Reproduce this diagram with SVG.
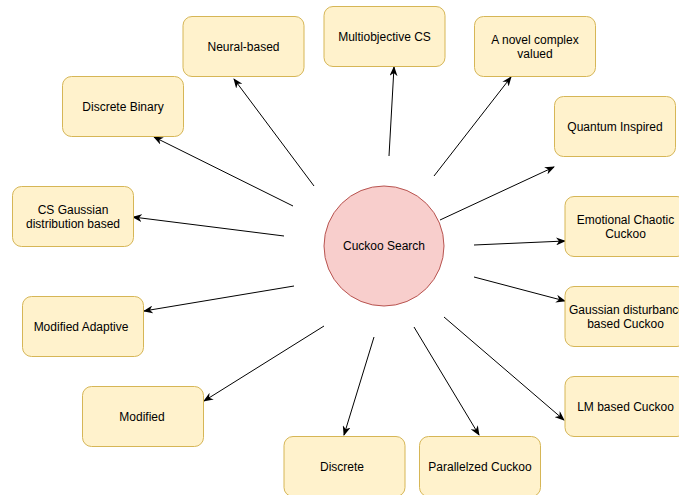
<svg xmlns="http://www.w3.org/2000/svg" width="679" height="495" viewBox="0 0 679 495">
<style>
.box{fill:#fff2cc;stroke:#d6b656;stroke-width:1}
.t{font-family:"Liberation Sans",Arial,sans-serif;font-size:12px;fill:#000;text-anchor:middle}
.c{stroke:#000;stroke-width:1;fill:none;marker-end:url(#arr)}
</style>
<defs>
<marker id="arr" markerUnits="userSpaceOnUse" viewBox="0 0 10 8" refX="9" refY="4" markerWidth="10" markerHeight="8" orient="auto">
<path d="M0,0 L10,4 L0,8 L3,4 z" fill="#000"/>
</marker>
</defs>
<rect width="679" height="495" fill="#fff"/>
<g id="connectors">
<line class="c" x1="314" y1="186" x2="234" y2="79"/>
<line class="c" x1="293" y1="206" x2="154" y2="137"/>
<line class="c" x1="284" y1="236" x2="133" y2="217"/>
<line class="c" x1="389" y1="156" x2="394" y2="67"/>
<line class="c" x1="434" y1="176" x2="511" y2="77"/>
<line class="c" x1="440" y1="220" x2="554" y2="167"/>
<line class="c" x1="474" y1="245" x2="565" y2="241"/>
<line class="c" x1="474" y1="277" x2="565" y2="301"/>
<line class="c" x1="444" y1="317" x2="564" y2="420"/>
<line class="c" x1="414" y1="327" x2="479" y2="435"/>
<line class="c" x1="374" y1="337" x2="344" y2="435"/>
<line class="c" x1="294" y1="286" x2="144" y2="311"/>
<line class="c" x1="324" y1="326" x2="204" y2="401"/>
</g>
<g id="center">
<circle cx="384" cy="246" r="60" fill="#f8cecc" stroke="#b85450"/>
<text class="t" x="384" y="250">Cuckoo Search</text>
</g>
<g id="neural"><rect class="box" x="183" y="16.5" width="121" height="60" rx="9"/><text class="t" x="243.5" y="50.5">Neural-based</text></g>
<g id="discrete-binary"><rect class="box" x="62.5" y="76.5" width="121" height="60" rx="9"/><text class="t" x="123" y="110.5">Discrete Binary</text></g>
<g id="cs-gaussian"><rect class="box" x="12.5" y="186.5" width="121" height="60" rx="9"/><text class="t" x="73" y="214">CS Gaussian</text><text class="t" x="73" y="228">distribution based</text></g>
<g id="multiobjective"><rect class="box" x="324" y="6.5" width="121" height="60" rx="9"/><text class="t" x="384.5" y="40.5">Multiobjective CS</text></g>
<g id="novel"><rect class="box" x="474.5" y="16.5" width="121" height="60" rx="9"/><text class="t" x="535" y="44">A novel complex</text><text class="t" x="535" y="58">valued</text></g>
<g id="quantum"><rect class="box" x="554.5" y="96.5" width="121" height="60" rx="9"/><text class="t" x="615" y="130.5">Quantum Inspired</text></g>
<g id="emotional"><rect class="box" x="565" y="196.5" width="121" height="60" rx="9"/><text class="t" x="625.5" y="224">Emotional Chaotic</text><text class="t" x="625.5" y="238">Cuckoo</text></g>
<g id="gaussian-disturbance"><rect class="box" x="565" y="286.5" width="121" height="60" rx="9"/><text class="t" x="627" y="314">Gaussian disturbance</text><text class="t" x="625.5" y="328">based Cuckoo</text></g>
<g id="lm"><rect class="box" x="565" y="376.5" width="121" height="60" rx="9"/><text class="t" x="625.5" y="410.5">LM based Cuckoo</text></g>
<g id="parallelzed"><rect class="box" x="419.5" y="436.5" width="121" height="60" rx="9"/><text class="t" x="480" y="470.5">Parallelzed Cuckoo</text></g>
<g id="discrete"><rect class="box" x="284" y="436.5" width="121" height="60" rx="9"/><text class="t" x="342" y="470.5">Discrete</text></g>
<g id="modified"><rect class="box" x="82.5" y="386.5" width="121" height="60" rx="9"/><text class="t" x="142" y="420.5">Modified</text></g>
<g id="modified-adaptive"><rect class="box" x="22.5" y="296.5" width="121" height="60" rx="9"/><text class="t" x="81" y="330.5">Modified Adaptive</text></g>
</svg>
